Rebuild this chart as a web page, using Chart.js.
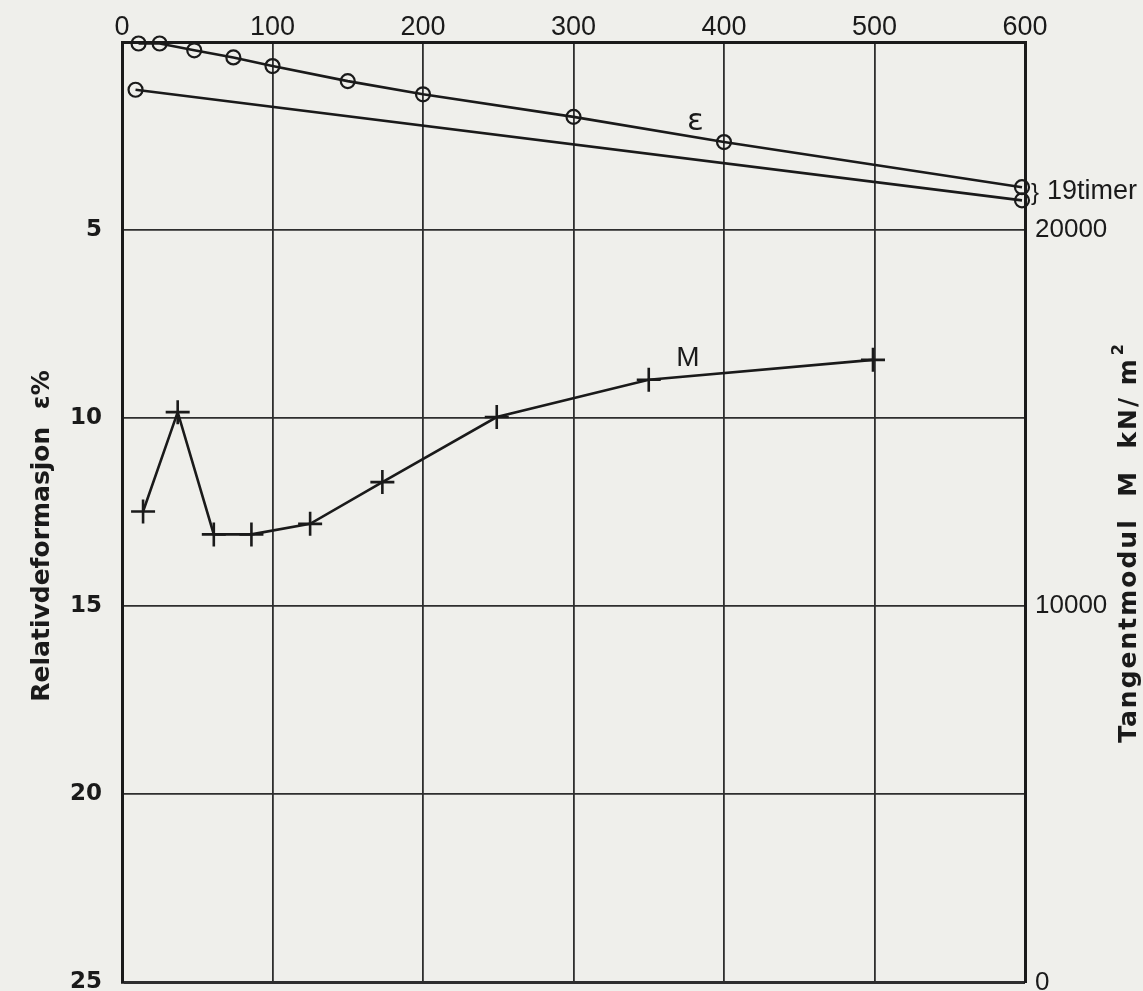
<!DOCTYPE html>
<html>
<head>
<meta charset="utf-8">
<script src="https://cdn.jsdelivr.net/npm/chart.js"></script>
<style>
html,body{margin:0;padding:0;background:#efefeb;overflow:hidden;}
canvas{display:block;}
</style>
</head>
<body>
<canvas id="grafica" width="1143" height="997"></canvas>
<script>
// belastning (x-akse, topp)
const xTicks = [0, 100, 200, 300, 400, 500, 600];
// relativ deformasjon, hovedkurve
const epsX = [11, 25, 48, 74, 100, 150, 200, 300, 400, 598];
const epsY = [0.04, 0.04, 0.22, 0.41, 0.64, 1.04, 1.39, 1.99, 2.66, 3.86];
// nedre linje (19 timer)
const eps19X = [9, 598];
const eps19Y = [1.27, 4.21];
// tangentmodul M kN/m2
const mX = [14, 37, 61, 86, 125, 173, 249, 350, 499];
const mY = [12520, 15160, 11910, 11910, 12190, 13300, 15030, 16020, 16550];
// akseverdier
const leftTicks = [0, 5, 10, 15, 20, 25];
const rightTicks = [0, 10000, 20000];

const ink = '#1a1a1a';
const gridInk = '#2e2e2e';

function pares(xs, ys){
    let out = [];
    for(var i=0;i<xs.length;i++){
        out.push({x: xs[i], y: ys[i]});
    }
    return out;
}

const tekster = {
    id: 'tekster',
    afterDraw(chart){
        const c = chart.ctx;
        const xs = chart.scales.x;
        const ys = chart.scales.y;
        c.save();
        c.fillStyle = ink;
        c.textAlign = 'center';
        c.textBaseline = 'middle';

        // venstre aksetittel
        c.save();
        c.translate(42, 536);
        c.rotate(-Math.PI/2);
        c.font = 'bold 25px "DejaVu Sans"';
        c.fillText('Relativdeformasjon  \u03b5%', 0, 0);
        c.restore();

        // høyre aksetittel
        c.save();
        c.translate(1129, 544);
        c.rotate(-Math.PI/2);
        c.font = 'bold 25px "DejaVu Sans"';
        c.letterSpacing = '2px';
        const hoved = 'Tangentmodul  M  kN/ m';
        const w = c.measureText(hoved).width;
        c.textAlign = 'left';
        c.fillText(hoved, -w/2 - 6, 0);
        c.font = 'bold 16px "DejaVu Sans"';
        c.fillText('2', w/2 - 4, -10);
        c.restore();

        // kurvenavn
        c.font = '31px "DejaVu Sans"';
        c.fillText('\u03b5', xs.getPixelForValue(381), ys.getPixelForValue(2.13));
        c.font = '28px "Liberation Sans"';
        c.fillText('M', xs.getPixelForValue(376), chart.scales.y2.getPixelForValue(16600));

        // 19 timer
        c.textAlign = 'left';
        c.font = '27px "Liberation Sans"';
        c.fillText('19timer', 1047, 192);
        c.font = '24px "Liberation Sans"';
        c.fillText('}', 1031, 193);
        c.restore();
    }
};

const ctx = document.getElementById('grafica');

const grafica = new Chart(ctx, {
    type: 'line',
    data: {
        datasets: [{
            label: 'eps',
            data: pares(epsX, epsY),
            yAxisID: 'y',
            borderColor: ink,
            borderWidth: 2.6,
            pointStyle: 'circle',
            pointRadius: 7,
            pointBorderWidth: 2.2,
            pointBorderColor: ink,
            pointBackgroundColor: 'rgba(0,0,0,0)',
            tension: 0,
            clip: false
        }, {
            label: 'eps19',
            data: pares(eps19X, eps19Y),
            yAxisID: 'y',
            borderColor: ink,
            borderWidth: 2.6,
            pointStyle: 'circle',
            pointRadius: 7,
            pointBorderWidth: 2.2,
            pointBorderColor: ink,
            pointBackgroundColor: 'rgba(0,0,0,0)',
            tension: 0,
            clip: false
        }, {
            label: 'M',
            data: pares(mX, mY),
            yAxisID: 'y2',
            borderColor: ink,
            borderWidth: 2.6,
            pointStyle: 'cross',
            pointRadius: 12,
            pointBorderWidth: 2.6,
            pointBorderColor: ink,
            tension: 0,
            clip: false
        }]
    },
    options: {
        responsive: false,
        animation: false,
        layout: {padding: {top: 0, left: 0, right: 0, bottom: 0}},
        plugins: {legend: {display: false}, tooltip: {enabled: false}},
        scales: {
            x: {
                type: 'linear',
                position: 'top',
                min: 0, max: 600,
                afterBuildTicks: s => { s.ticks = xTicks.map(v => ({value: v})); },
                ticks: {color: ink, padding: -2, font: {family: 'Liberation Sans', size: 27}},
                grid: {color: gridInk, lineWidth: 1.8, drawTicks: false},
                border: {color: ink, width: 3},
                afterFit: s => { s.height = 42; s.paddingLeft = 0; s.paddingRight = 0; }
            },
            y: {
                position: 'left',
                reverse: true,
                min: 0, max: 25,
                afterBuildTicks: s => { s.ticks = leftTicks.map(v => ({value: v})); },
                ticks: {
                    color: ink, padding: 20,
                    font: {family: 'DejaVu Sans', size: 23, weight: 'bold'},
                    callback: v => v === 0 ? '' : String(v)
                },
                grid: {
                    color: gridInk,
                    lineWidth: c => (c.tick && c.tick.value === 25) ? 3 : 1.8,
                    drawTicks: false
                },
                border: {color: ink, width: 3},
                afterFit: s => { s.width = 122; s.paddingTop = 0; s.paddingBottom = 0; }
            },
            y2: {
                position: 'right',
                min: 0, max: 25000,
                afterBuildTicks: s => { s.ticks = rightTicks.map(v => ({value: v})); },
                ticks: {
                    color: ink, padding: 10,
                    font: {family: 'Liberation Sans', size: 26},
                    callback: v => String(v)
                },
                grid: {drawOnChartArea: false, drawTicks: false},
                border: {color: ink, width: 3},
                afterFit: s => { s.width = 118; s.paddingTop = 0; s.paddingBottom = 0; }
            }
        }
    },
    plugins: [tekster]
});
</script>
</body>
</html>
